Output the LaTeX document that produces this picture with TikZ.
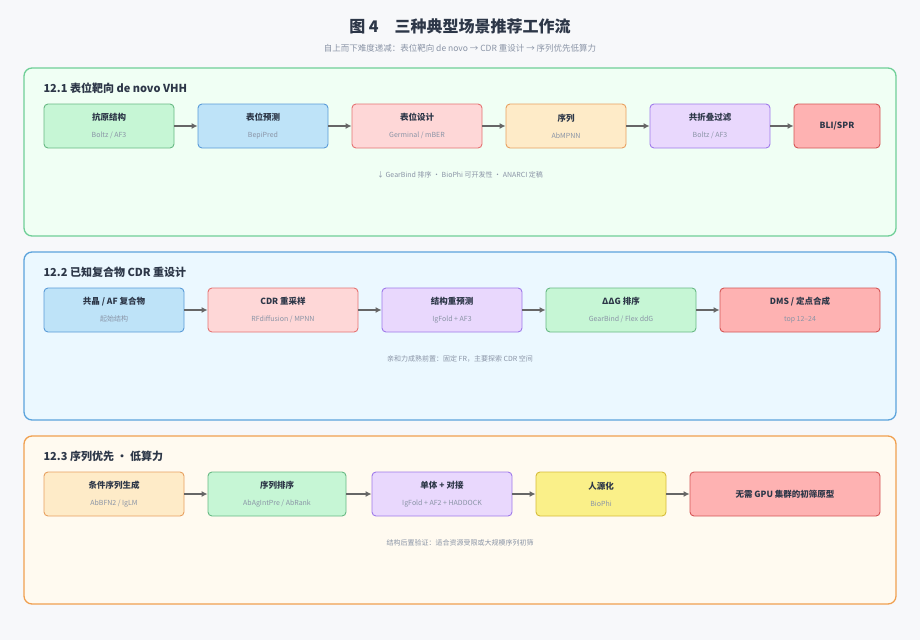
\documentclass[tikz,border=0pt]{standalone}
\usepackage{fontspec}
\setmainfont{Noto Sans CJK SC}
\usetikzlibrary{arrows.meta,positioning}
\definecolor{bgc}{HTML}{F7F8FA}
\definecolor{txt}{HTML}{2D3748}
\definecolor{subt}{HTML}{8A94A6}
\definecolor{grF}{HTML}{C6F6D5}\definecolor{grD}{HTML}{68B984}
\definecolor{blF}{HTML}{BEE3F8}\definecolor{blD}{HTML}{5A9BD8}
\definecolor{pkF}{HTML}{FED7D7}\definecolor{pkD}{HTML}{E57373}
\definecolor{orF}{HTML}{FEEBC8}\definecolor{orD}{HTML}{E8A060}
\definecolor{puF}{HTML}{E9D8FD}\definecolor{puD}{HTML}{9F7AEA}
\definecolor{rdF}{HTML}{FEB2B2}\definecolor{rdD}{HTML}{D45555}
\definecolor{yeF}{HTML}{FAF089}\definecolor{yeD}{HTML}{D6BC3A}
\definecolor{p1F}{HTML}{F0FFF4}\definecolor{p1D}{HTML}{6FCF97}
\definecolor{p2F}{HTML}{EBF8FF}\definecolor{p2D}{HTML}{5BA3DC}
\definecolor{p3F}{HTML}{FFFAF0}\definecolor{p3D}{HTML}{F0A050}
\tikzset{
  panel/.style={rounded corners=8pt, line width=1.3pt},
  stage/.style={rounded corners=4pt, line width=0.9pt, minimum height=44pt, align=center, inner sep=0pt, text=txt},
  flow/.style={-{Latex[length=6pt,width=6pt]}, line width=1.3pt, draw=gray!80!black},
  ptitle/.style={anchor=west, font=\bfseries\fontsize{11}{13}\selectfont, text=txt},
  note/.style={font=\fontsize{7}{9}\selectfont, text=subt},
}
\newcommand{\stg}[2]{{\fontsize{8.5}{10}\selectfont\bfseries #1}\\[5pt]{\fontsize{7}{9}\selectfont\color{subt}#2}}
\begin{document}
\begin{tikzpicture}[x=1pt,y=-1pt]
    \fill[bgc] (0,0) rectangle (920,640);
    \useasboundingbox (0,0) rectangle (920,640);
    \node[font=\bfseries\fontsize{16}{18}\selectfont, text=txt] (title) at (460,26) {图 4\quad 三种典型场景推荐工作流};
    \node[font=\fontsize{8.5}{10}\selectfont, text=subt] (subtitle) at (460,48) {自上而下难度递减：表位靶向 de novo → CDR 重设计 → 序列优先低算力};
    % panel 12.1
    \draw[panel, draw=p1D, fill=p1F] (24,68) rectangle (896,236);
    \node[ptitle] (p1) at (40,88) {12.1 表位靶向 de novo VHH};
    \node[stage, fill=grF, draw=grD, minimum width=130pt] (a1) at (109,126) {\stg{抗原结构}{Boltz / AF3}};
    \node[stage, fill=blF, draw=blD, minimum width=130pt] (a2) at (263,126) {\stg{表位预测}{BepiPred}};
    \node[stage, fill=pkF, draw=pkD, minimum width=130pt] (a3) at (417,126) {\stg{表位设计}{Germinal / mBER}};
    \node[stage, fill=orF, draw=orD, minimum width=120pt] (a4) at (566,126) {\stg{序列}{AbMPNN}};
    \node[stage, fill=puF, draw=puD, minimum width=120pt] (a5) at (710,126) {\stg{共折叠过滤}{Boltz / AF3}};
    \node[stage, fill=rdF, draw=rdD, minimum width=86pt, font=\bfseries\fontsize{8.5}{10}\selectfont] (a6) at (837,126) {BLI/SPR};
    \foreach \i/\j in {a1/a2,a2/a3,a3/a4,a4/a5,a5/a6} \draw[flow] (\i) -- (\j);
    \node[note] (n1) at (460,175) {↓ GearBind 排序 · BioPhi 可开发性 · ANARCI 定稿};
    % panel 12.2
    \draw[panel, draw=p2D, fill=p2F] (24,252) rectangle (896,420);
    \node[ptitle] (p2) at (40,272) {12.2 已知复合物 CDR 重设计};
    \node[stage, fill=blF, draw=blD, minimum width=140pt] (b1) at (114,310) {\stg{共晶 / AF 复合物}{起始结构}};
    \node[stage, fill=pkF, draw=pkD, minimum width=150pt] (b2) at (283,310) {\stg{CDR 重采样}{RFdiffusion / MPNN}};
    \node[stage, fill=puF, draw=puD, minimum width=140pt] (b3) at (452,310) {\stg{结构重预测}{IgFold + AF3}};
    \node[stage, fill=grF, draw=grD, minimum width=150pt] (b4) at (621,310) {\stg{ΔΔG 排序}{GearBind / Flex ddG}};
    \node[stage, fill=rdF, draw=rdD, minimum width=160pt] (b5) at (800,310) {\stg{DMS / 定点合成}{top 12–24}};
    \foreach \i/\j in {b1/b2,b2/b3,b3/b4,b4/b5} \draw[flow] (\i) -- (\j);
    \node[note] (n2) at (460,359) {亲和力成熟前置：固定 FR，主要探索 CDR 空间};
    % panel 12.3
    \draw[panel, draw=p3D, fill=p3F] (24,436) rectangle (896,604);
    \node[ptitle] (p3) at (40,456) {12.3 序列优先 · 低算力};
    \node[stage, fill=orF, draw=orD, minimum width=140pt] (c1) at (114,494) {\stg{条件序列生成}{AbBFN2 / IgLM}};
    \node[stage, fill=grF, draw=grD, minimum width=138pt] (c2) at (277,494) {\stg{序列排序}{AbAgIntPre / AbRank}};
    \node[stage, fill=puF, draw=puD, minimum width=140pt] (c3) at (442,494) {\stg{单体 + 对接}{IgFold + AF2 + HADDOCK}};
    \node[stage, fill=yeF, draw=yeD, minimum width=130pt] (c4) at (601,494) {\stg{人源化}{BioPhi}};
    \node[stage, fill=rdF, draw=rdD, minimum width=190pt, font=\bfseries\fontsize{8.5}{10}\selectfont] (c5) at (785,494) {无需 GPU 集群的初筛原型};
    \foreach \i/\j in {c1/c2,c2/c3,c3/c4,c4/c5} \draw[flow] (\i) -- (\j);
    \node[note] (n3) at (460,543) {结构后置验证：适合资源受限或大规模序列初筛};
\end{tikzpicture}
\end{document}
